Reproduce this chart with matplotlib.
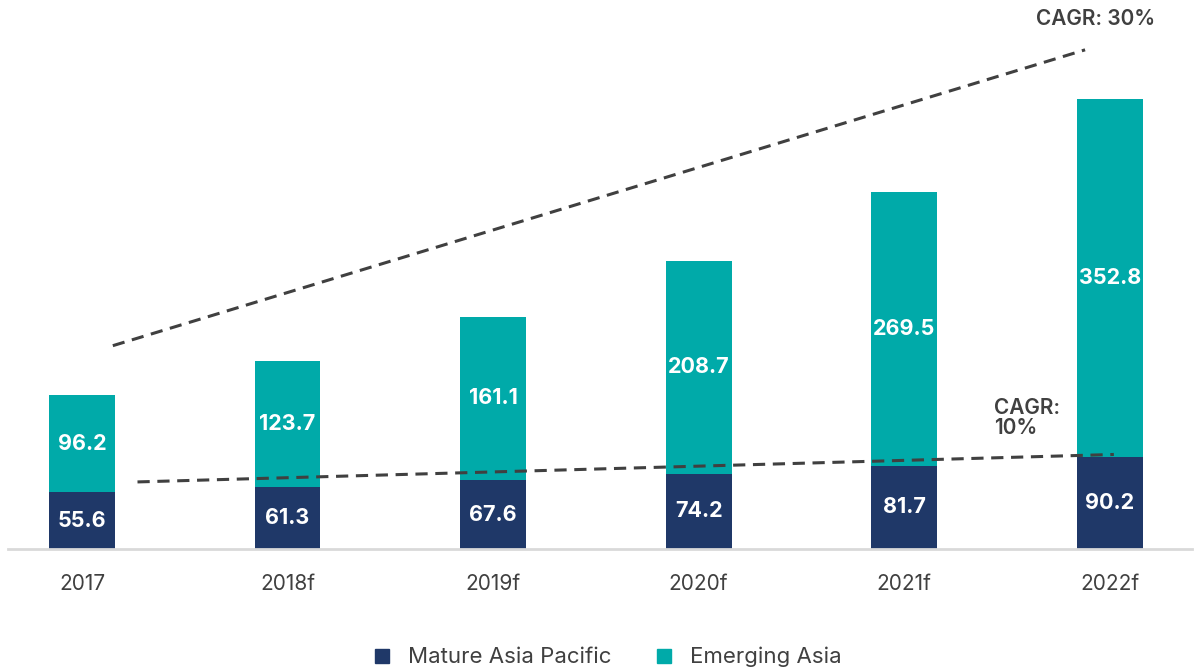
import matplotlib.pyplot as plt
from matplotlib.lines import Line2D

plt.rcParams['font.family'] = ['Inter', 'DejaVu Sans']

# dados
anos = ['2017', '2018f', '2019f', '2020f', '2021f', '2022f']
madura = [55.6, 61.3, 67.6, 74.2, 81.7, 90.2]
emergente = [96.2, 123.7, 161.1, 208.7, 269.5, 352.8]

# linhas de tendencia (CAGR)
cagr30_x = [0.15, 4.88]
cagr30_y = [200, 491]
cagr10_x = [0.27, 5.02]
cagr10_y = [66, 93]

cor_madura = '#1f3868'
cor_emergente = '#00aaa9'
cor_texto = '#404040'

fig = plt.figure(figsize=(11.94, 6.72), dpi=100)
ax = fig.add_axes([0.0067, 0.183, 0.9916, 0.817])

x = list(range(len(anos)))
ax.bar(x, madura, width=0.32, color=cor_madura)
ax.bar(x, emergente, width=0.32, bottom=madura, color=cor_emergente)

for i in x:
    ax.text(i, madura[i] / 2, f'{madura[i]:.1f}', ha='center', va='center',
            color='white', fontsize=15.5, fontweight='bold')
    ax.text(i, madura[i] + emergente[i] / 2, f'{emergente[i]:.1f}', ha='center',
            va='center', color='white', fontsize=15.5, fontweight='bold')

ax.plot(cagr30_x, cagr30_y, color='#404040', linestyle='--', linewidth=2.2, dashes=(4, 2.5))
ax.plot(cagr10_x, cagr10_y, color='#404040', linestyle='--', linewidth=2.2, dashes=(4, 2.5))
ax.text(4.93, 521, 'CAGR: 30%', ha='center', va='center', color=cor_texto,
        fontsize=15, fontweight='semibold')
ax.text(4.435, 129, 'CAGR:\n10%', ha='left', va='center', color=cor_texto,
        fontsize=15, fontweight='semibold', linespacing=1.0)

ax.set_xlim(-0.36, 5.40)
ax.set_ylim(0, 540)
ax.set_xticks(x)
ax.set_xticklabels(anos, fontsize=15, color=cor_texto)
ax.tick_params(axis='x', length=0, pad=18)
ax.set_yticks([])
for lado in ['top', 'right', 'left']:
    ax.spines[lado].set_visible(False)
ax.spines['bottom'].set_color('#d9d9d9')
ax.spines['bottom'].set_linewidth(2)

handles = [Line2D([], [], marker='s', linestyle='', color=cor_madura, markersize=10),
           Line2D([], [], marker='s', linestyle='', color=cor_emergente, markersize=10)]
fig.legend(handles, ['Mature Asia Pacific', 'Emerging Asia'], loc='center',
           bbox_to_anchor=(0.503, 0.022), ncol=2, frameon=False, fontsize=16,
           labelcolor=cor_texto, handletextpad=0.15, columnspacing=1.4)

fig.savefig('out.png', dpi=100)
